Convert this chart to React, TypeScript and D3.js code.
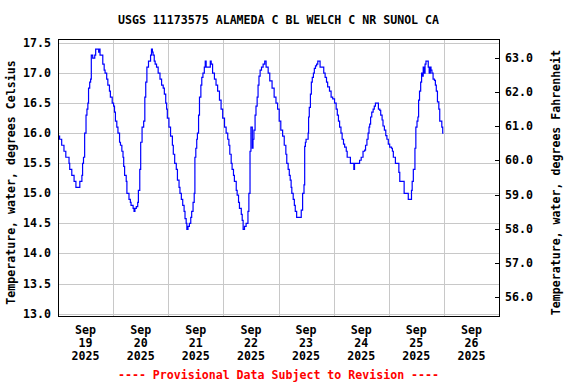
import React from 'react';
import * as d3 from 'd3';

const TITLE = 'USGS 11173575 ALAMEDA C BL WELCH C NR SUNOL CA';
const FOOTER = '---- Provisional Data Subject to Revision ----';
const LEFT_LABEL = 'Temperature, water, degrees Celsius';
const RIGHT_LABEL = 'Temperature, water, degrees Fahrenheit';

const celsiusTicks = [13.0, 13.5, 14.0, 14.5, 15.0, 15.5, 16.0, 16.5, 17.0, 17.5];
const fahrenheitTicks = [56, 57, 58, 59, 60, 61, 62, 63];
const dayLabels = [19, 20, 21, 22, 23, 24, 25, 26];
const gridDays = [20, 21, 22, 23, 24, 25, 26];

// hours since 2025-09-19 00:00
const hours = [
  0, 0.7, 1.6, 2.6, 3.4, 4.8, 5.1, 6.0, 7.0, 7.8, 9.2, 9.5, 10.4, 10.7, 11.1, 11.6, 12.2, 12.6, 13.0, 13.3,
  13.8, 14.2, 14.5, 15.1, 16.0, 16.4, 17.3, 17.7, 18.0, 18.3, 19.2, 19.5, 20.1, 20.5, 21.2, 21.7, 22.4, 22.8,
  23.6, 24.2, 24.6, 25.0, 25.6, 26.1, 26.8, 27.2, 27.8, 28.3, 28.6, 29.0, 29.7, 30.0, 30.9, 31.5, 31.8, 32.7,
  33.1, 33.5, 34.1, 34.7, 35.0, 35.6, 36.0, 36.6, 37.3, 37.8, 38.2, 38.7, 39.4, 40.3, 40.7, 41.1, 41.4, 41.9,
  42.3, 42.9, 43.6, 44.4, 45.1, 45.8, 46.3, 46.9, 47.3,
  47.6, 48.3, 49.0, 49.8, 50.2, 50.8, 51.5, 52.0, 52.7, 53.1, 53.7, 54.3, 54.9, 55.3, 55.8, 56.1, 56.6, 57.2,
  57.8, 58.2, 58.8, 59.3, 59.6, 60.0, 60.4, 60.7, 61.2, 61.6, 62.2, 62.6, 63.1, 63.7, 64.1, 64.5, 65.9, 66.3,
  66.7, 67.3, 68.1, 68.8, 69.5, 70.3, 71.0, 71.7, 72.5, 73.2, 73.9, 74.4, 74.8, 75.4, 75.8, 76.4, 76.8, 77.6,
  78.0, 78.6, 79.0, 79.8, 80.2, 80.6, 81.2, 81.9, 82.7, 83.1, 83.6, 84.0, 84.6, 84.9, 85.3, 85.8, 86.2, 86.7,
  87.1, 87.5, 88.0, 88.6, 89.3, 90.0, 90.6, 91.5, 92.2, 93.2, 94.1, 94.9, 95.6,
  96.3, 97.0, 97.8, 98.5, 99.2, 99.6, 100.2, 100.7, 101.1, 101.5, 101.8, 102.4, 102.9, 103.3, 103.9, 105.5,
  105.9, 106.5, 107.1, 107.4, 107.7, 108.0, 108.6, 108.9, 109.1, 109.4, 109.9, 110.3, 110.7, 111.2, 111.6,
  112.1, 112.6, 113.1, 113.8, 114.1, 115.3, 115.7, 116.3, 116.9, 117.4, 118.2, 118.9, 119.6, 120.4, 121.1,
  121.6, 122.1, 122.6, 123.2, 123.7, 124.3, 124.8, 125.5, 125.9, 127.2, 127.3, 128.7, 128.8, 129.1, 131.0,
  131.3, 132.0, 132.8, 133.5, 133.9, 134.5, 135.0, 135.4, 135.7, 136.1, 136.6, 137.2, 137.7, 138.2, 139.2,
  139.5, 140.1, 140.5, 141.1, 141.5, 142.1, 142.7, 143.2, 143.8, 144.4,
  145.2, 145.6, 146.0, 146.9, 147.8, 148.4, 148.8, 150.3, 150.7, 152.2, 152.5, 153.6, 153.9, 154.2, 154.7,
  155.1, 155.4, 155.8, 156.3, 156.7, 157.0, 157.4, 157.9, 158.3, 158.6, 159.0, 159.5, 159.8, 160.2, 160.9,
  161.2, 161.6, 162.1, 162.4, 162.8, 163.3, 163.9, 164.3, 164.7, 165.2, 165.8, 166.2, 166.8, 167.1, 167.5,
  167.8,
];

const tempC = [
  15.95, 15.9, 15.8, 15.7, 15.6, 15.5, 15.4, 15.3, 15.2, 15.1, 15.1, 15.2, 15.3, 15.5, 15.6, 16.0, 16.3, 16.4, 16.5, 16.75,
  16.85, 16.9, 17.3, 17.25, 17.3, 17.4, 17.4, 17.35, 17.4, 17.3, 17.3, 17.15, 17.05, 17.0, 16.9, 16.8, 16.7, 16.6,
  16.5, 16.45, 16.35, 16.2, 16.1, 16.0, 15.85, 15.8, 15.7, 15.6, 15.45, 15.3, 15.2, 15.0, 14.9, 14.85, 14.8, 14.75,
  14.7, 14.75, 14.78, 14.85, 15.05, 15.4, 15.85, 16.1, 16.2, 16.6, 16.85, 17.1, 17.2, 17.3, 17.4, 17.35, 17.3, 17.2,
  17.15, 17.1, 17.0, 16.9, 16.8, 16.75, 16.65, 16.5, 16.4,
  16.25, 16.1, 15.95, 15.8, 15.65, 15.5, 15.4, 15.22, 15.1, 15.0, 14.9, 14.8, 14.7, 14.58, 14.5, 14.4, 14.45, 14.5,
  14.6, 14.7, 14.85, 15.0, 15.6, 15.75, 15.9, 16.0, 16.3, 16.6, 16.8, 16.93, 17.0, 17.1, 17.2, 17.1, 17.1, 17.2,
  17.15, 17.0, 16.9, 16.8, 16.7, 16.55, 16.4, 16.25, 16.1, 16.0, 15.9, 15.8, 15.65, 15.5, 15.4, 15.3, 15.2, 15.05,
  14.97, 14.85, 14.75, 14.65, 14.55, 14.4, 14.45, 14.5, 14.7, 15.0, 15.7, 16.1, 15.75, 15.9, 16.05, 16.3, 16.45, 16.6,
  16.8, 16.95, 17.05, 17.1, 17.15, 17.2, 17.1, 17.0, 16.87, 16.75, 16.6, 16.5, 16.4,
  16.2, 16.05, 15.95, 15.8, 15.65, 15.5, 15.4, 15.3, 15.22, 15.1, 15.0, 14.9, 14.8, 14.7, 14.6, 14.6,
  14.72, 15.0, 15.14, 15.78, 15.85, 15.9, 15.9, 16.0, 16.27, 16.43, 16.65, 16.85, 16.93, 17.0, 17.08,
  17.12, 17.15, 17.2, 17.2, 17.1, 17.1, 17.0, 16.93, 16.85, 16.77, 16.7, 16.6, 16.57, 16.5, 16.4,
  16.3, 16.2, 16.1, 16.0, 15.9, 15.82, 15.77, 15.7, 15.6, 15.6, 15.5, 15.5, 15.4, 15.5, 15.5,
  15.55, 15.6, 15.7, 15.72, 15.8, 15.9, 16.0, 16.1, 16.15, 16.27, 16.35, 16.4, 16.45, 16.5, 16.5,
  16.4, 16.38, 16.3, 16.22, 16.12, 16.05, 15.96, 15.9, 15.82, 15.77,
  15.75, 15.7, 15.6, 15.5, 15.5, 15.35, 15.2, 15.2, 15.0, 15.0, 14.9, 14.9, 15.05, 15.2, 15.4,
  15.4, 15.75, 16.1, 16.2, 16.27, 16.55, 16.7, 16.85, 17.0, 16.95, 17.1, 17.0, 17.15, 17.2, 17.2,
  17.1, 17.0, 17.1, 17.05, 17.0, 16.9, 16.88, 16.8, 16.7, 16.52, 16.4, 16.2, 16.2, 16.1, 16.0,
  16.0,
];

const START = Date.UTC(2025, 8, 19);
const HOUR = 3600 * 1000;

export default function App() {
  const W = 576;
  const H = 384;
  const L = 58;
  const R = 499;
  const T = 39;
  const B = 316;
  const font = '"DejaVu Sans Mono", monospace';
  const fs = 11.6;

  const x = d3.scaleUtc().domain([new Date(START), new Date(Date.UTC(2025, 8, 27))]).range([L, R]);
  const y = d3.scaleLinear().domain([12.96, 17.567]).range([B, T]);
  const yF = d3.scaleLinear().domain([55.443, 63.557]).range([B, T]);

  const line = d3
    .line<number>()
    .x((h) => x(new Date(START + h * HOUR)))
    .y((_, i) => y(tempC[i]))
    .curve(d3.curveStepAfter);

  const px = (v: number) => Math.round(v) + 0.5;

  return (
    <svg
      width={W}
      height={H}
      style={{ position: 'absolute', left: 0, top: 0, background: '#fff' }}
      fontFamily={font}
      fontWeight="bold"
      fontSize={fs}
    >
      <rect x={0} y={0} width={W} height={H} fill="#fff" />
      {/* horizontal grid */}
      {celsiusTicks.map((c) => (
        <line key={'h' + c} x1={L} x2={R} y1={px(y(c))} y2={px(y(c))} stroke="#c8c8c8" strokeWidth={1} />
      ))}
      {/* vertical grid */}
      {gridDays.map((d) => {
        const xv = px(x(new Date(Date.UTC(2025, 8, d))));
        return <line key={'v' + d} x1={xv} x2={xv} y1={T} y2={B} stroke="#c8c8c8" strokeWidth={1} />;
      })}
      {/* data line */}
      <path d={line(hours) || ''} fill="none" stroke="#0000ff" strokeWidth={1.2} />
      {/* frame */}
      <rect x={L + 0.5} y={T + 0.5} width={R - L} height={B - T} fill="none" stroke="#000" strokeWidth={1} />
      {/* right ticks */}
      {fahrenheitTicks.map((f) => (
        <line key={'rt' + f} x1={R - 4} x2={R + 0.5} y1={px(yF(f))} y2={px(yF(f))} stroke="#000" strokeWidth={1} />
      ))}
      {/* left labels */}
      {celsiusTicks.map((c) => (
        <text key={'lt' + c} x={51} y={y(c) + 4} textAnchor="end" fill="#000">
          {c.toFixed(1)}
        </text>
      ))}
      {/* right labels */}
      {fahrenheitTicks.map((f) => (
        <text key={'rl' + f} x={505} y={yF(f) + 4} textAnchor="start" fill="#000">
          {f.toFixed(1)}
        </text>
      ))}
      {/* x labels */}
      {dayLabels.map((d) => {
        const xv = x(new Date(Date.UTC(2025, 8, d, 12)));
        return (
          <g key={'xl' + d}>
            <text x={xv} y={334} textAnchor="middle" fill="#000">Sep</text>
            <text x={xv} y={347} textAnchor="middle" fill="#000">{String(d)}</text>
            <text x={xv} y={360} textAnchor="middle" fill="#000">2025</text>
          </g>
        );
      })}
      {/* title */}
      <text x={(L + R) / 2} y={24} textAnchor="middle" fill="#000">{TITLE}</text>
      {/* axis titles */}
      <text transform={`translate(15,${(T + B) / 2 + 5}) rotate(-90)`} textAnchor="middle" fill="#000">
        {LEFT_LABEL}
      </text>
      <text transform={`translate(560,${(T + B) / 2 + 5}) rotate(-90)`} textAnchor="middle" fill="#000">
        {RIGHT_LABEL}
      </text>
      {/* footer */}
      <text x={(L + R) / 2} y={379} textAnchor="middle" fill="#ff0000">{FOOTER}</text>
    </svg>
  );
}
